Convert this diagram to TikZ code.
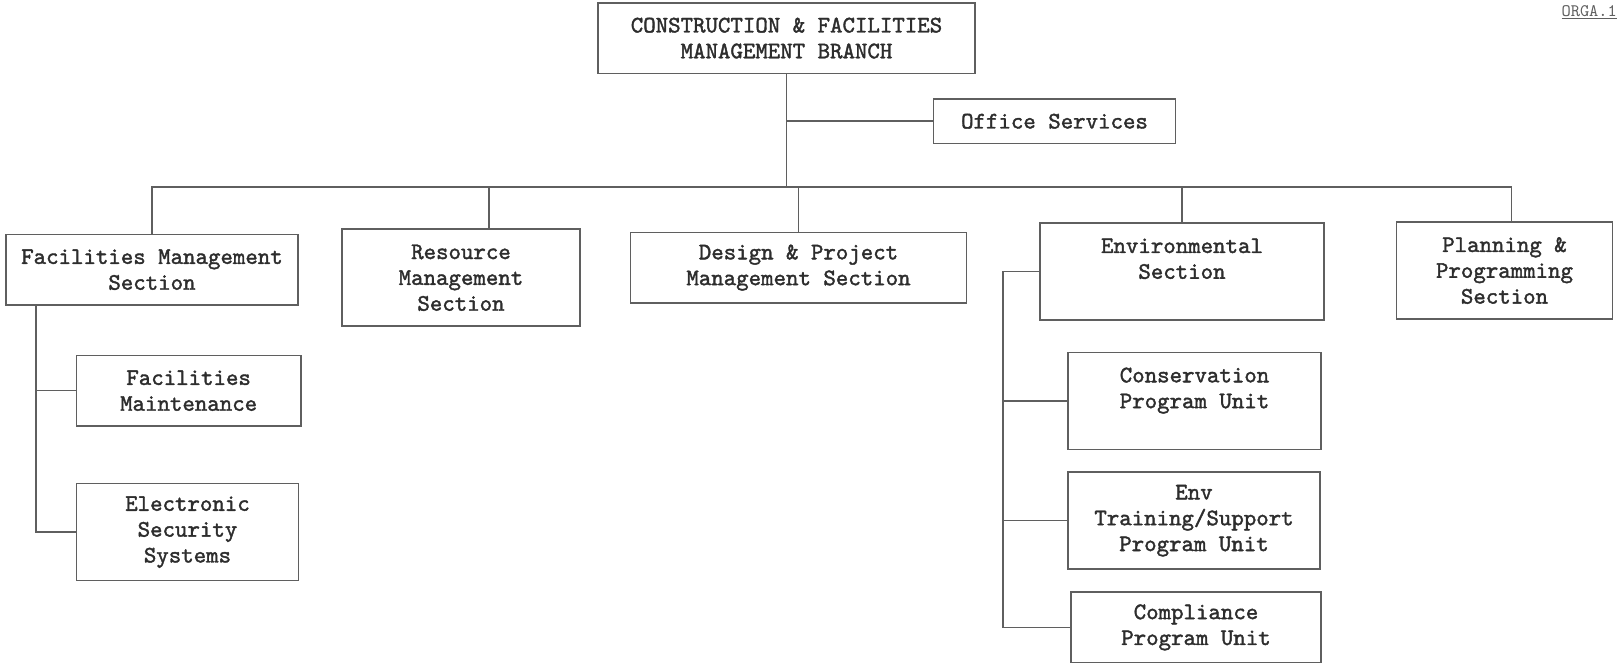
\documentclass[tikz,border=0pt]{standalone}
\usepackage{fontspec}
\newfontfamily\orgfont{lmmono10-regular.otf}[RawFeature={embolden=1.6}]
\definecolor{ink}{RGB}{45,45,45}
\definecolor{rule}{RGB}{95,95,95}
\usetikzlibrary{calc}

\begin{document}
\begin{tikzpicture}[
    unit/.style={draw=rule, line width=0.9pt, anchor=north, align=center, inner sep=0pt,
      text=ink, font=\orgfont\fontsize{13.5}{14.7}\selectfont},
    two/.style={unit, minimum height=1.41cm},
    three/.style={unit, minimum height=1.94cm},
    wire/.style={draw=rule, line width=0.9pt}]

        \useasboundingbox (0,0) rectangle (32.42,-13.295);

        % branch and office
        \node[two, minimum width=7.53cm] (branch) at (15.73,-0.041) {CONSTRUCTION \& FACILITIES\\MANAGEMENT BRANCH};
        \node[unit, minimum width=4.84cm, minimum height=0.889cm] (office) at (21.09,-1.964) {Office Services};
        \node[text=rule, anchor=base east, inner sep=1pt, font=\ttfamily\fontsize{10}{12}\selectfont] (ref) at (32.38,-0.32) {\underline{ORGA.1}};

        % sections
        \node[two, minimum width=5.83cm] (fms) at (3.04,-4.673) {Facilities Management\\Section};
        \node[three, minimum width=4.756cm] (rms) at (9.22,-4.569) {Resource\\Management\\Section};
        \node[two, minimum width=6.72cm] (dpms) at (15.97,-4.631) {Design \& Project\\Management Section};
        \node[three, minimum width=5.686cm] (env) at (23.64,-4.445) {Environmental\\Section\\\mbox{}};
        \node[three, minimum width=4.32cm] (plan) at (30.09,-4.425) {Planning \&\\Programming\\Section};

        % units
        \node[two, minimum width=4.487cm] (maint) at (3.773,-7.092) {Facilities\\Maintenance};
        \node[three, minimum width=4.445cm] (ess) at (3.75,-9.656) {Electronic\\Security\\Systems};
        \node[three, minimum width=5.065cm] (cons) at (23.89,-7.03) {Conservation\\Program Unit\\\mbox{}};
        \node[three, minimum width=5.045cm] (train) at (23.88,-9.428) {Env\\Training/Support\\Program Unit};
        \node[two, minimum width=5.0cm] (comp) at (23.92,-11.827) {Compliance\\Program Unit};

        \coordinate (bar) at (0,-3.742);
        \coordinate (fmsline) at (0.724,0);
        \coordinate (envline) at (20.056,0);

        \draw[wire] (branch.south) -- (branch.south |- bar);
        \draw[wire] (office.west) -- (office.west -| branch.south);
        \draw[wire] (fms.north) -- (fms.north |- bar) -- ([xshift=0.14cm]plan.north |- bar) -- ([xshift=0.14cm]plan.north);
        \draw[wire] ([xshift=0.56cm]rms.north) -- ([xshift=0.56cm]rms.north |- bar);
        \foreach \n in {dpms,env}
          \draw[wire] (\n.north) -- (\n.north |- bar);

        \draw[wire] (fms.south -| fmsline) -- (ess.west -| fmsline) -- (ess.west);
        \draw[wire] (maint.west -| fmsline) -- (maint.west);
        \draw[wire] (env.west) -- (env.west -| envline) -- (comp.west -| envline) -- (comp.west);
        \foreach \n in {cons,train}
          \draw[wire] (\n.west -| envline) -- (\n.west);
      \end{tikzpicture}
\end{document}
